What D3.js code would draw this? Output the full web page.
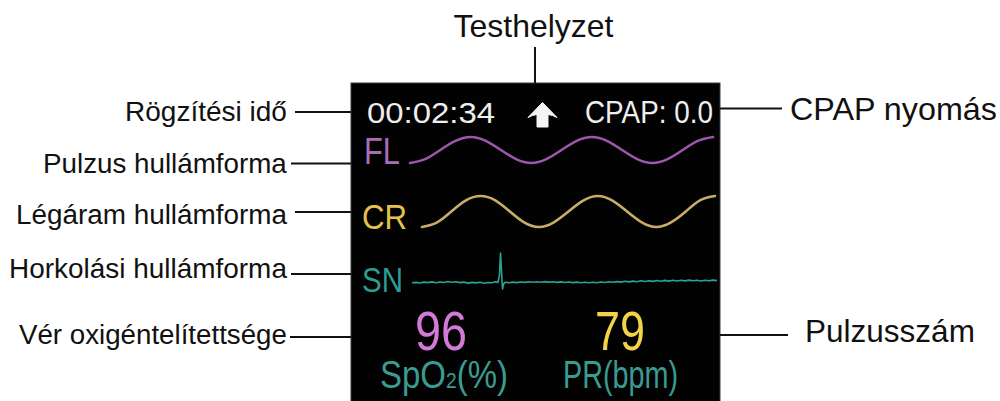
<!DOCTYPE html>
<html>
<head>
<meta charset="utf-8">
<script src="https://cdn.jsdelivr.net/npm/d3@7"></script>
<style>
  html, body { margin: 0; padding: 0; background: #fff; }
  svg { display: block; font-family: "Liberation Sans", Arial, sans-serif; }
</style>
</head>
<body>
<svg id="chart" width="1000" height="401"></svg>
<script>
// ---------------- data ----------------
const leftLabels = ["Rögzítési idő", "Pulzus hullámforma", "Légáram hullámforma", "Horkolási hullámforma", "Vér oxigéntelítettsége"];
const rightLabels = ["CPAP nyomás", "Pulzusszám"];
const topLabels = ["Testhelyzet"];
const traceNames = ["FL", "CR", "SN"];
const headerTexts = ["00:02:34", "CPAP: 0.0"];
const readingValues = [96, 79];
const readingUnits = ["SpO", "PR(bpm)"];

const flValues = [0, 1.5, 5, 8.5, 10, 8.5, 5, 1.5, 0, 1.5, 5, 8.5, 10, 8.5, 5, 1.5, 0, 1.5, 5, 8.5, 10];
// airflow waveform (CR)
const crValues = [0, 1.4, 5, 8.6, 10, 8.6, 5, 1.4, 0, 1.5, 5, 8.5, 10, 8.5, 5, 1.5, 0, 1.5, 5, 8.7, 10];
// snore waveform (SN): [time, amplitude]
const snPoints = [[0,0.2],[4,0.6],[8,0],[12,0.9],[16,0.4],[20,1.1],[24,0.3],[28,1.0],[32,0.5],[36,1.5],[40,0.7],[44,1.3],[48,0.4],[52,0.9],[56,-0.1],[60,0.6],[64,0.1],[68,0.7],[72,-0.2],[76,0.5],[80,0.2],[83,1.3],[86,0.6],[87.5,8],[88.5,30],[89.5,12],[90.5,-6],[91.5,-1],[93,0.8],[97,0.3],[101,0.9],[105,0.4],[109,1.0],[113,0.6],[117,1.2],[121,0.7],[125,1.3],[129,0.8],[133,1.4],[137,0.9],[141,1.2],[145,0.6],[149,1.1],[153,0.5],[157,1.0],[161,0.4],[165,0.9],[169,0.3],[173,0.8],[177,0.2],[181,0.7],[185,0.3],[189,1.0],[193,0.5],[197,1.3],[201,0.7],[205,1.4],[209,0.9],[213,1.7],[217,1.1],[221,1.9],[225,1.3],[229,2.2],[233,1.5],[237,2.3],[241,1.6],[245,2.5],[249,1.8],[253,2.6],[257,1.9],[261,2.7],[265,2.0],[269,2.8],[273,2.1],[277,2.9],[281,2.2],[285,2.7],[289,2.0],[293,2.8],[297,2.2],[301,2.9],[305,2.4]];

// ---------------- layout ----------------
const svg = d3.select("#chart");
const screen = { x: 351, y: 83, w: 369, h: 330 };

function fitText(g, x, y, width, anchor) {
  const node = g.node();
  const w = node.getComputedTextLength ? node.getComputedTextLength() : node.getBBox().width;
  const sx = width / w;
  let tx = x;
  if (anchor === "middle") tx = x - width / 2;
  if (anchor === "end") tx = x - width;
  g.attr("x", 0).attr("y", 0).attr("text-anchor", "start")
   .attr("transform", `translate(${tx},${y}) scale(${sx},1)`);
}

// screen
svg.append("rect")
  .attr("x", screen.x).attr("y", screen.y)
  .attr("width", screen.w).attr("height", screen.h)
  .attr("fill", "#020202").attr("stroke", "#3a3a3a").attr("stroke-width", 1);

// ---- connector lines and annotations ----
const leftLayout = [
  { ly: 112, lx: 295, ty: 120.5, w: 162 },
  { ly: 163.5, lx: 291, ty: 172.5, w: 244 },
  { ly: 212, lx: 295, ty: 224, w: 271 },
  { ly: 274, lx: 291, ty: 277.5, w: 278 },
  { ly: 337, lx: 290, ty: 343.5, w: 268 }
];
leftLabels.forEach((t, i) => {
  const L = leftLayout[i];
  svg.append("line").attr("x1", L.lx).attr("x2", screen.x).attr("y1", L.ly).attr("y2", L.ly)
    .attr("stroke", "#111").attr("stroke-width", 2);
  const tt = svg.append("text").attr("font-size", 27).attr("fill", "#111").text(t);
  fitText(tt, 287, L.ty, L.w, "end");
});

const rightLayout = [
  { ly: 108.5, lx2: 782, tx: 790, ty: 119.5, w: 207 },
  { ly: 335, lx2: 788, tx: 805, ty: 341.5, w: 170 }
];
rightLabels.forEach((t, i) => {
  const R = rightLayout[i];
  svg.append("line").attr("x1", screen.x + screen.w).attr("x2", R.lx2).attr("y1", R.ly).attr("y2", R.ly)
    .attr("stroke", "#111").attr("stroke-width", 2);
  const tt = svg.append("text").attr("font-size", 32).attr("fill", "#111").text(t);
  fitText(tt, R.tx, R.ty, R.w, "start");
});

svg.append("line").attr("x1", 535).attr("x2", 535).attr("y1", 47).attr("y2", screen.y)
  .attr("stroke", "#111").attr("stroke-width", 2);
const tl = svg.append("text").attr("font-size", 31).attr("fill", "#111").text(topLabels[0]);
fitText(tl, 533.5, 36.5, 160, "middle");

// ---- header ----
const h0 = svg.append("text").attr("font-size", 30).attr("fill", "#eeeeee").text(headerTexts[0]);
fitText(h0, 367, 123.3, 128, "start");
const h1 = svg.append("text").attr("font-size", 31.5).attr("fill", "#eeeeee").text(headerTexts[1]);
fitText(h1, 585, 123.3, 128, "start");

// body-position arrow
const ac = 542.5;
svg.append("path")
  .attr("d", `M${ac},102.5 L${ac + 14.5},117.5 Q${ac + 10},115 ${ac + 5.5},114.5 L${ac + 5.5},127 L${ac - 5.5},127 L${ac - 5.5},114.5 Q${ac - 10},115 ${ac - 14.5},117.5 Z`)
  .attr("fill", "#f4f4f4").attr("stroke", "#f4f4f4").attr("stroke-width", 1).attr("stroke-linejoin", "round");

// ---- trace labels ----
const traceColors = ["#a96cba", "#e3c34c", "#2b9e92"];
const traceLabelLayout = [
  { x: 364, y: 164, w: 36 },
  { x: 362, y: 229, w: 45 },
  { x: 362, y: 291.5, w: 41 }
];
traceNames.forEach((t, i) => {
  const L = traceLabelLayout[i];
  const tt = svg.append("text").attr("font-size", 36).attr("fill", traceColors[i]).text(t);
  fitText(tt, L.x, L.y, L.w, "start");
});

// ---- waveforms ----
const xFL = d3.scaleLinear().domain([0, flValues.length - 1]).range([410, 713]);
const yFL = d3.scaleLinear().domain([0, 10]).range([163, 137]);
svg.append("path")
  .attr("d", d3.line().x((d, i) => xFL(i)).y(d => yFL(d)).curve(d3.curveNatural)(flValues))
  .attr("fill", "none").attr("stroke", "#9c56ae").attr("stroke-width", 2.6).attr("stroke-linecap", "round");

const xCR = d3.scaleLinear().domain([0, crValues.length - 1]).range([422, 715]);
const yCR = d3.scaleLinear().domain([0, 10]).range([227, 196]);
svg.append("path")
  .attr("d", d3.line().x((d, i) => xCR(i)).y(d => yCR(d)).curve(d3.curveNatural)(crValues))
  .attr("fill", "none").attr("stroke", "#c9ac68").attr("stroke-width", 2.6).attr("stroke-linecap", "round");

const xSN = d3.scaleLinear().domain([0, 305]).range([412, 717]);
const ySN = d3.scaleLinear().domain([0, 30]).range([283, 253]);
svg.append("path")
  .attr("d", d3.line().x(d => xSN(d[0])).y(d => ySN(d[1]))(snPoints))
  .attr("fill", "none").attr("stroke", "#2aa394").attr("stroke-width", 1.6).attr("stroke-linejoin", "round");

// ---- readings ----
const valueColors = ["#d27ad6", "#f1d447"];
const valueLayout = [{ x: 415, w: 52 }, { x: 595, w: 50 }];
readingValues.forEach((v, i) => {
  const tt = svg.append("text").attr("font-size", 56).attr("fill", valueColors[i]).text(v);
  fitText(tt, valueLayout[i].x, 350, valueLayout[i].w, "start");
});

const unitColor = "#3a9b91";
const u0 = svg.append("text").attr("font-size", 38).attr("fill", unitColor);
u0.append("tspan").text(readingUnits[0]);
u0.append("tspan").attr("font-size", 22).text("2");
u0.append("tspan").text("(%)");
fitText(u0, 380, 388, 128, "start");
const u1 = svg.append("text").attr("font-size", 38).attr("fill", unitColor).text(readingUnits[1]);
fitText(u1, 563, 388, 115, "start");
</script>
</body>
</html>
